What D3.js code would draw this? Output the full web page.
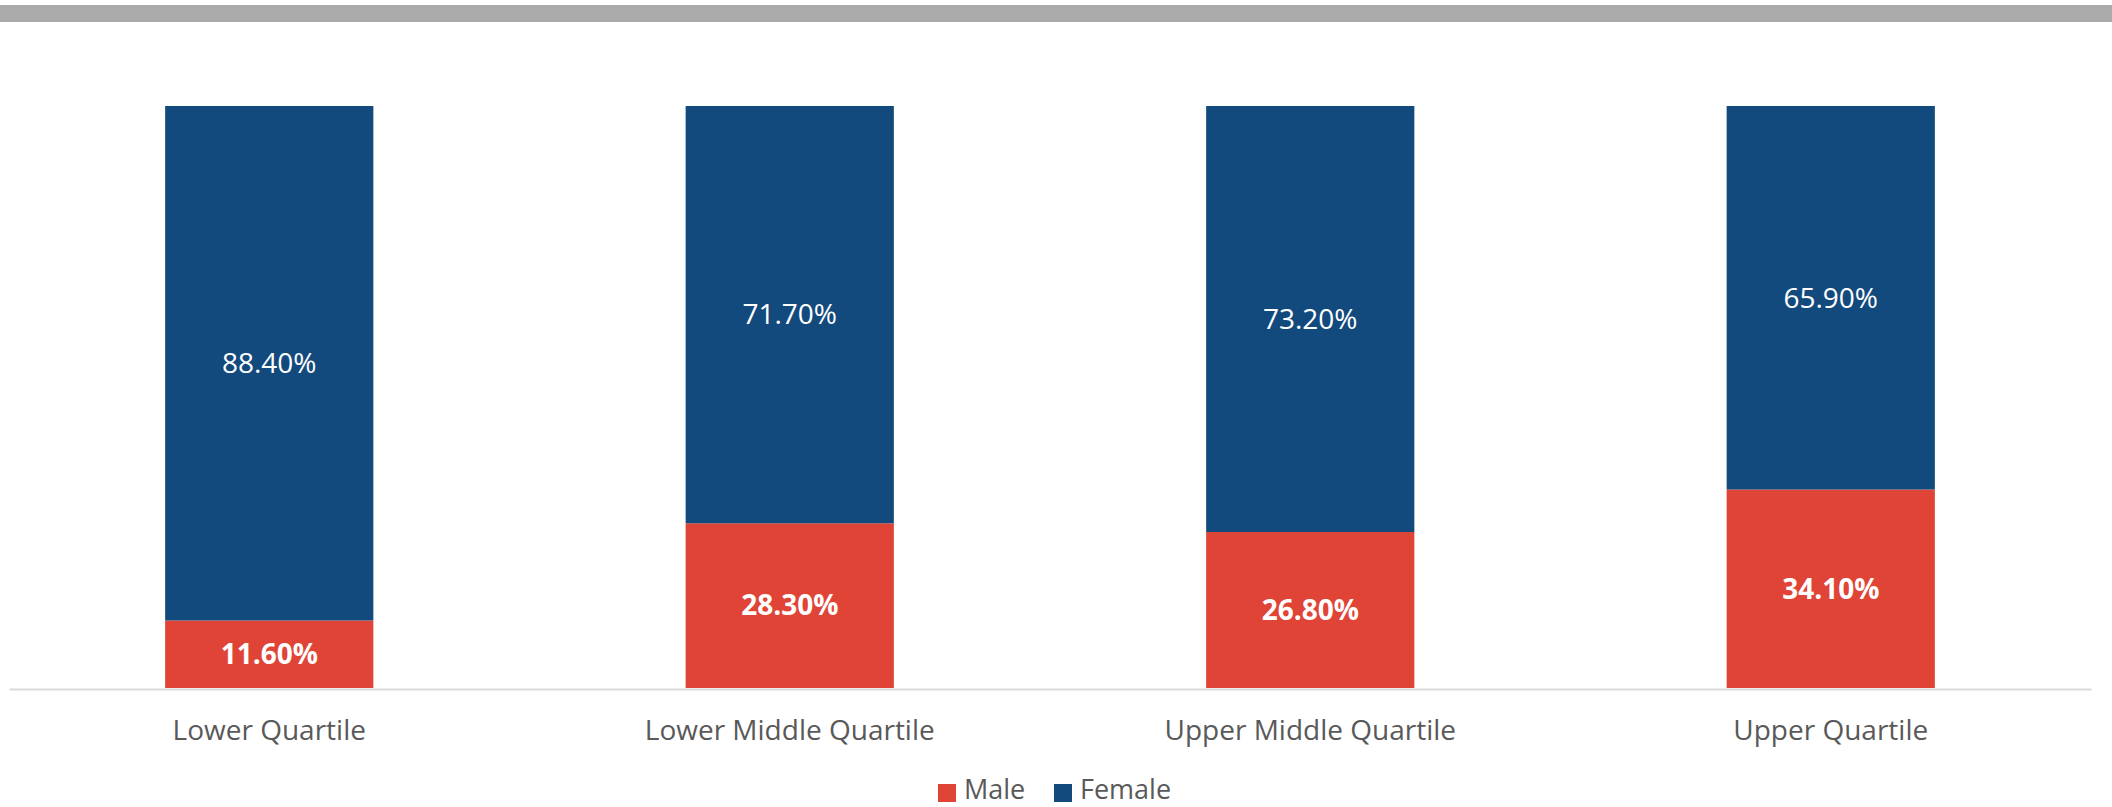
<!DOCTYPE html>
<html>
<head>
<meta charset="utf-8">
<script src="https://cdn.jsdelivr.net/npm/d3@7"></script>
<style>
  body { margin: 0; background: #fff; }
  svg text { font-family: "Open Sans", sans-serif; }
</style>
</head>
<body>
<div id="chart"></div>
<script>
// chart data
let categories = ["Lower Quartile", "Lower Middle Quartile", "Upper Middle Quartile", "Upper Quartile"];
let maleValues = [11.6, 28.3, 26.8, 34.1];
let femaleValues = [88.4, 71.7, 73.2, 65.9];
let seriesNames = ["Male", "Female"];
let seriesColors = ["#e04436", "#134a7e"];

let width = 2112, height = 807;
let margin = {left: 9, right: 21, top: 106, bottom: 119};

let svg = d3.select("#chart")
    .append("svg")
    .attr("width", width)
    .attr("height", height);

// grey strip along the top
svg.append("rect")
    .attr("x", 0).attr("y", 5)
    .attr("width", width).attr("height", 17)
    .attr("fill", "#aaaaaa");

let x = d3.scaleBand()
    .domain(categories)
    .range([margin.left, width - margin.right])
    .paddingInner(0.6)
    .paddingOuter(0.3);

let y = d3.scaleLinear()
    .domain([0, 100])
    .range([height - margin.bottom, margin.top]);

let rows = categories.map(function(c, i) {
    return {cat: c, Male: maleValues[i], Female: femaleValues[i]};
});

let stack = d3.stack().keys(seriesNames)(rows);
let color = d3.scaleOrdinal().domain(seriesNames).range(seriesColors);

let layers = svg.selectAll("g.layer")
    .data(stack)
    .enter()
    .append("g")
    .attr("class", "layer")
    .attr("fill", function(d) { return color(d.key); });

layers.selectAll("rect")
    .data(function(d) { return d; })
    .enter()
    .append("rect")
    .attr("x", function(d) { return x(d.data.cat); })
    .attr("y", function(d) { return y(d[1]); })
    .attr("width", x.bandwidth())
    .attr("height", function(d) { return y(d[0]) - y(d[1]); });

// value labels
layers.each(function(layer) {
    d3.select(this).selectAll("text")
        .data(layer)
        .enter()
        .append("text")
        .attr("x", function(d) { return x(d.data.cat) + x.bandwidth() / 2; })
        .attr("y", function(d) { return (y(d[0]) + y(d[1])) / 2; })
        .attr("dy", "0.35em")
        .attr("text-anchor", "middle")
        .attr("fill", "#ffffff")
        .style("font-size", "28px")
        .style("font-weight", layer.key == "Male" ? "bold" : "normal")
        .text(function(d) { return (d[1] - d[0]).toFixed(2) + "%"; });
});

// x axis
let xAxis = svg.append("g")
    .attr("transform", `translate(0, ${y(0) + 1})`)
    .call(d3.axisBottom(x).tickSize(0).tickPadding(31));

xAxis.select(".domain")
    .attr("stroke", "#d9d9d9")
    .attr("stroke-width", 2);

xAxis.selectAll("text")
    .attr("fill", "#595959")
    .style("font-size", "28px");

// legend
let legend = svg.append("g")
    .attr("transform", "translate(938, 791)");

let legendX = [0, 116];
seriesNames.forEach(function(name, i) {
    let g = legend.append("g").attr("transform", `translate(${legendX[i]}, 0)`);
    g.append("rect")
        .attr("x", 0).attr("y", -7)
        .attr("width", 18).attr("height", 18)
        .attr("fill", color(name));
    g.append("text")
        .attr("x", 26).attr("y", 0)
        .attr("dy", "0.3em")
        .attr("fill", "#595959")
        .style("font-size", "27px")
        .text(name);
});
</script>
</body>
</html>
